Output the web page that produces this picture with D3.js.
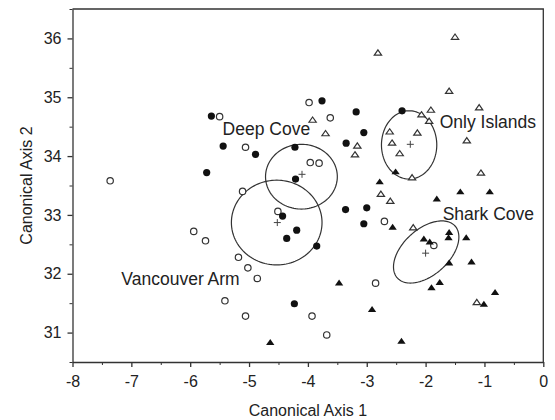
<!DOCTYPE html>
<html>
<head>
<meta charset="utf-8">
<script src="https://cdn.jsdelivr.net/npm/d3@7"></script>
<style>
  html, body { margin: 0; padding: 0; background: #fff; }
  svg { display: block; font-family: "Liberation Sans", Arial, sans-serif; }
</style>
</head>
<body>
<div id="chart"></div>
<script>
// Canonical scores as [axis1, axis2]
const filledCircles = [
    [-5.64, 34.68], [-5.44, 34.17], [-5.72, 33.72], [-4.89, 34.03], [-4.22, 34.15],
    [-4.21, 33.61], [-4.43, 32.98], [-4.19, 32.74], [-4.36, 32.60], [-3.85, 32.47],
    [-3.76, 34.94], [-3.18, 34.75], [-3.05, 34.40], [-3.35, 34.22], [-3.36, 33.09],
    [-3.00, 33.12], [-3.05, 32.85], [-2.40, 34.77], [-4.23, 31.49]
];
const openCircles = [
    [-5.50, 34.67], [-7.36, 33.58], [-5.94, 32.72], [-5.74, 32.56], [-5.06, 34.15],
    [-5.11, 33.40], [-3.96, 33.89], [-3.81, 33.88], [-4.51, 33.06], [-5.18, 32.28],
    [-5.02, 32.10], [-4.86, 31.92], [-5.41, 31.54], [-5.06, 31.28], [-3.93, 31.28],
    [-3.68, 30.96], [-2.85, 31.84], [-2.70, 32.89], [-3.98, 34.91], [-3.62, 34.65],
    [-1.86, 32.48]
];
const openTriangles = [
    [-2.81, 35.76], [-1.50, 36.03], [-1.60, 35.11], [-2.07, 34.71], [-1.91, 34.79],
    [-1.94, 34.60], [-1.09, 34.83], [-2.61, 34.42], [-2.14, 34.40], [-2.57, 34.23],
    [-1.30, 34.27], [-2.44, 34.05], [-2.23, 33.64], [-1.06, 33.72], [-3.92, 34.62],
    [-3.70, 34.39], [-3.16, 34.18], [-3.20, 34.03], [-2.76, 33.36], [-2.60, 33.24],
    [-2.21, 32.79], [-1.13, 31.52]
];
const filledTriangles = [
    [-2.51, 33.74], [-2.78, 33.57], [-1.41, 33.40], [-0.91, 33.40], [-1.81, 33.28],
    [-2.56, 32.80], [-1.60, 32.71], [-1.61, 32.62], [-1.31, 32.62], [-2.03, 32.60],
    [-1.93, 32.55], [-1.60, 32.19], [-1.22, 32.21], [-1.76, 31.86], [-1.90, 31.77],
    [-0.82, 31.69], [-1.01, 31.49], [-3.47, 31.85], [-2.91, 31.40], [-4.64, 30.84],
    [-2.41, 30.86]
];

// Site names, group centroids and 95% ellipses (cx, cy, rx, ry, angle in degrees)
const sites = ["Deep Cove", "Vancouver Arm", "Only Islands", "Shark Cove"];
const centroids = [[-4.10, 33.69], [-4.52, 32.87], [-2.26, 34.20], [-2.00, 32.35]];
const ellipses = [
    [-4.11, 33.65, 0.61, 0.55, 0],
    [-4.53, 32.87, 0.77, 0.72, 0],
    [-2.28, 34.19, 0.47, 0.58, 0],
    [-1.99, 32.37, 0.66, 0.39, 42]
];
const labelAnchors = [[-5.45, 34.36], [-7.17, 31.81], [-1.76, 34.48], [-1.71, 32.91]];

const xTicks = [-8, -7, -6, -5, -4, -3, -2, -1, 0];
const yTicks = [31, 32, 33, 34, 35, 36];

const W = 555, H = 420;
const margin = { top: 9, right: 11.7, bottom: 58, left: 72.5 };
const ink = "#222";

const svg = d3.select("#chart").append("svg")
    .attr("width", W)
    .attr("height", H);

const x = d3.scaleLinear().domain([-8, 0]).range([margin.left, W - margin.right]);
const y = d3.scaleLinear().domain([30.5, 36.5]).range([H - margin.bottom, margin.top]);

// frame: top and right edges
svg.append("path")
    .attr("d", `M${x(-8)},${y(36.5)}H${x(0)}V${y(30.5)}`)
    .attr("fill", "none")
    .attr("stroke", "#333")
    .attr("stroke-width", 1.3);

// minor ticks first, then the major axis on top
const xMinor = d3.range(-7.5, 0, 1);
const yMinor = d3.range(30.5, 36.6, 1);

svg.append("g")
    .attr("transform", `translate(0,${y(30.5)})`)
    .call(d3.axisBottom(x).tickValues(xMinor).tickSize(3).tickFormat(""))
    .call(g => g.select(".domain").remove());
svg.append("g")
    .attr("transform", `translate(${x(-8)},0)`)
    .call(d3.axisLeft(y).tickValues(yMinor).tickSize(3).tickFormat(""))
    .call(g => g.select(".domain").remove());

const xAxis = svg.append("g")
    .attr("transform", `translate(0,${y(30.5)})`)
    .call(d3.axisBottom(x).tickValues(xTicks).tickSize(5).tickSizeOuter(0).tickPadding(8.5).tickFormat(d3.format("d")));
const yAxis = svg.append("g")
    .attr("transform", `translate(${x(-8)},0)`)
    .call(d3.axisLeft(y).tickValues(yTicks).tickSize(5).tickSizeOuter(0).tickPadding(6).tickFormat(d3.format("d")));

[xAxis, yAxis].forEach(g => {
    g.selectAll("path, line").attr("stroke", "#333").attr("stroke-width", 1.3);
    g.selectAll("text")
        .attr("fill", ink)
        .style("font-size", "16px")
        .style("font-family", "'Liberation Sans', Arial, sans-serif");
});
// plain hyphen for negatives, as in the figure
xAxis.selectAll("text").text(d => String(d));

svg.selectAll("g").filter(function () { return this.parentNode === svg.node(); })
    .selectAll(".tick line").attr("stroke", "#333");

// axis titles
svg.append("text")
    .attr("x", (x(-8) + x(0)) / 2)
    .attr("y", 416)
    .attr("text-anchor", "middle")
    .attr("fill", ink)
    .style("font-size", "16px")
    .text("Canonical Axis 1");

svg.append("text")
    .attr("transform", `translate(32,${(y(30.5) + y(36.5)) / 2}) rotate(-90)`)
    .attr("text-anchor", "middle")
    .attr("fill", ink)
    .style("font-size", "16px")
    .text("Canonical Axis 2");

// ellipses, traced in data space and mapped through the scales
const ellipseLine = d3.line().x(p => x(p[0])).y(p => y(p[1]));
function ellipsePoints(e) {
    const [cx, cy, rx, ry, deg] = e;
    const a = deg * Math.PI / 180;
    return d3.range(0, 361, 3).map(t => {
        const r = t * Math.PI / 180;
        const ex = rx * Math.cos(r), ey = ry * Math.sin(r);
        return [cx + ex * Math.cos(a) - ey * Math.sin(a), cy + ex * Math.sin(a) + ey * Math.cos(a)];
    });
}

svg.append("g")
    .selectAll("path")
    .data(ellipses)
    .join("path")
    .attr("d", e => ellipseLine(ellipsePoints(e)))
    .attr("fill", "none")
    .attr("stroke", "#333")
    .attr("stroke-width", 1.2);

// triangle symbol, a little flatter than d3's own
const flatTriangle = {
    draw(ctx, size) {
        const w = Math.sqrt(size) * 1.25, h = w * 0.72;
        ctx.moveTo(0, -h / 2);
        ctx.lineTo(w / 2, h / 2);
        ctx.lineTo(-w / 2, h / 2);
        ctx.closePath();
    }
};

const marks = svg.append("g");

marks.selectAll("circle.open")
    .data(openCircles)
    .join("circle")
    .attr("class", "open")
    .attr("cx", d => x(d[0]))
    .attr("cy", d => y(d[1]))
    .attr("r", 3.2)
    .attr("fill", "#fff")
    .attr("stroke", "#333")
    .attr("stroke-width", 1.2);

marks.selectAll("path.otri")
    .data(openTriangles)
    .join("path")
    .attr("class", "otri")
    .attr("transform", d => `translate(${x(d[0])},${y(d[1])})`)
    .attr("d", d3.symbol().type(flatTriangle).size(34))
    .attr("fill", "#fff")
    .attr("stroke", "#333")
    .attr("stroke-width", 1.2);

marks.selectAll("circle.filled")
    .data(filledCircles)
    .join("circle")
    .attr("class", "filled")
    .attr("cx", d => x(d[0]))
    .attr("cy", d => y(d[1]))
    .attr("r", 3.6)
    .attr("fill", "#111");

marks.selectAll("path.ftri")
    .data(filledTriangles)
    .join("path")
    .attr("class", "ftri")
    .attr("transform", d => `translate(${x(d[0])},${y(d[1])})`)
    .attr("d", d3.symbol().type(flatTriangle).size(44))
    .attr("fill", "#111");

// centroid crosses
marks.selectAll("path.cross")
    .data(centroids)
    .join("path")
    .attr("class", "cross")
    .attr("d", d => {
        const cx = x(d[0]), cy = y(d[1]);
        return `M${cx - 3.5},${cy}H${cx + 3.5}M${cx},${cy - 3.5}V${cy + 3.5}`;
    })
    .attr("stroke", "#444")
    .attr("stroke-width", 1);

// site names
svg.append("g")
    .selectAll("text")
    .data(sites)
    .join("text")
    .attr("x", (d, i) => x(labelAnchors[i][0]))
    .attr("y", (d, i) => y(labelAnchors[i][1]))
    .attr("fill", ink)
    .style("font-size", "17.5px")
    .text(d => d);
</script>
</body>
</html>
